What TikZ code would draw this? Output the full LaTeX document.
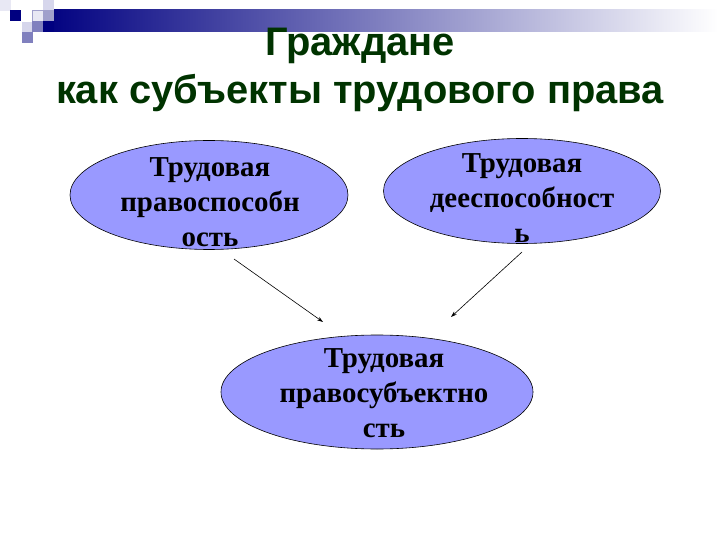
\documentclass[tikz,border=0pt]{standalone}
\usepackage{fontspec}
\setmainfont{Liberation Serif}
\newfontfamily\titlefont{Liberation Sans}
\usetikzlibrary{shapes.geometric,arrows.meta}
\definecolor{navyc}{RGB}{0,0,128}
\definecolor{titlegreen}{RGB}{0,51,0}
\definecolor{ellfill}{RGB}{153,153,255}
\definecolor{lav1}{RGB}{214,214,236}
\definecolor{lav2}{RGB}{160,160,204}
\definecolor{lav3}{RGB}{128,128,190}
\definecolor{lav4}{RGB}{232,232,244}
\tikzset{
  ell/.style={ellipse, draw=black, line width=0.6pt, fill=ellfill, inner sep=0pt},
  elltext/.style={align=center, inner sep=0pt, font=\fontsize{29}{35}\selectfont\bfseries},
  arr/.style={-{Stealth[length=6bp,width=4bp]}, line width=0.6pt, black},
  sq/.style={draw=none, minimum size=11bp, inner sep=0pt, anchor=north west},
}
\begin{document}
\begin{tikzpicture}[x=1bp,y=-1bp]
\useasboundingbox (0,0) rectangle (720,540);
\fill[white] (0,0) rectangle (720,540);
% gradient bar
\shade[left color=navyc, right color=white] (43,10) rectangle (718,32);
% squares
\node[sq, fill=lav4] (s0) at (0,0) {};
\node[sq, fill=navyc] (s1) at (10,10) {};
\node[sq, fill=lav1] (s2) at (22,22) {};
\node[sq, fill=lav3] (s3) at (22,32) {};
\node[sq, fill=lav4, draw=lav2, line width=0.5pt] (s4) at (32,10) {};
\node[sq, fill=lav3] (s5) at (32,21) {};
\node[sq, fill=lav1] (s6) at (43,0) {};
\node[sq, fill=lav2] (s7) at (43,10) {};
\node[sq, fill=navyc] (s8) at (43,21) {};
% title
\node[font=\titlefont\bfseries\fontsize{40}{49}\selectfont, text=titlegreen, align=center] (title) at (360,70) {Граждане\\как субъекты трудового права};
% ellipses
\node[ell, minimum width=278bp, minimum height=109bp] (a) at (209,195) {};
\node[ell, minimum width=277bp, minimum height=105bp] (b) at (522,191) {};
\node[ell, minimum width=312bp, minimum height=114bp] (c) at (377,392) {};
\node[elltext] (ta) at (210,202) {Трудовая\\правоспособн\\ость};
\node[elltext] (tb) at (522,198) {Трудовая\\дееспособност\\ь};
\node[elltext] (tc) at (384,393) {Трудовая\\правосубъектно\\сть};
% arrows
\coordinate (a1) at (234,259);
\coordinate (a2) at (323,322);
\coordinate (b1) at (522,252);
\coordinate (b2) at (451,317);
\draw[arr] (a1) -- (a2);
\draw[arr] (b1) -- (b2);
\end{tikzpicture}
\end{document}
